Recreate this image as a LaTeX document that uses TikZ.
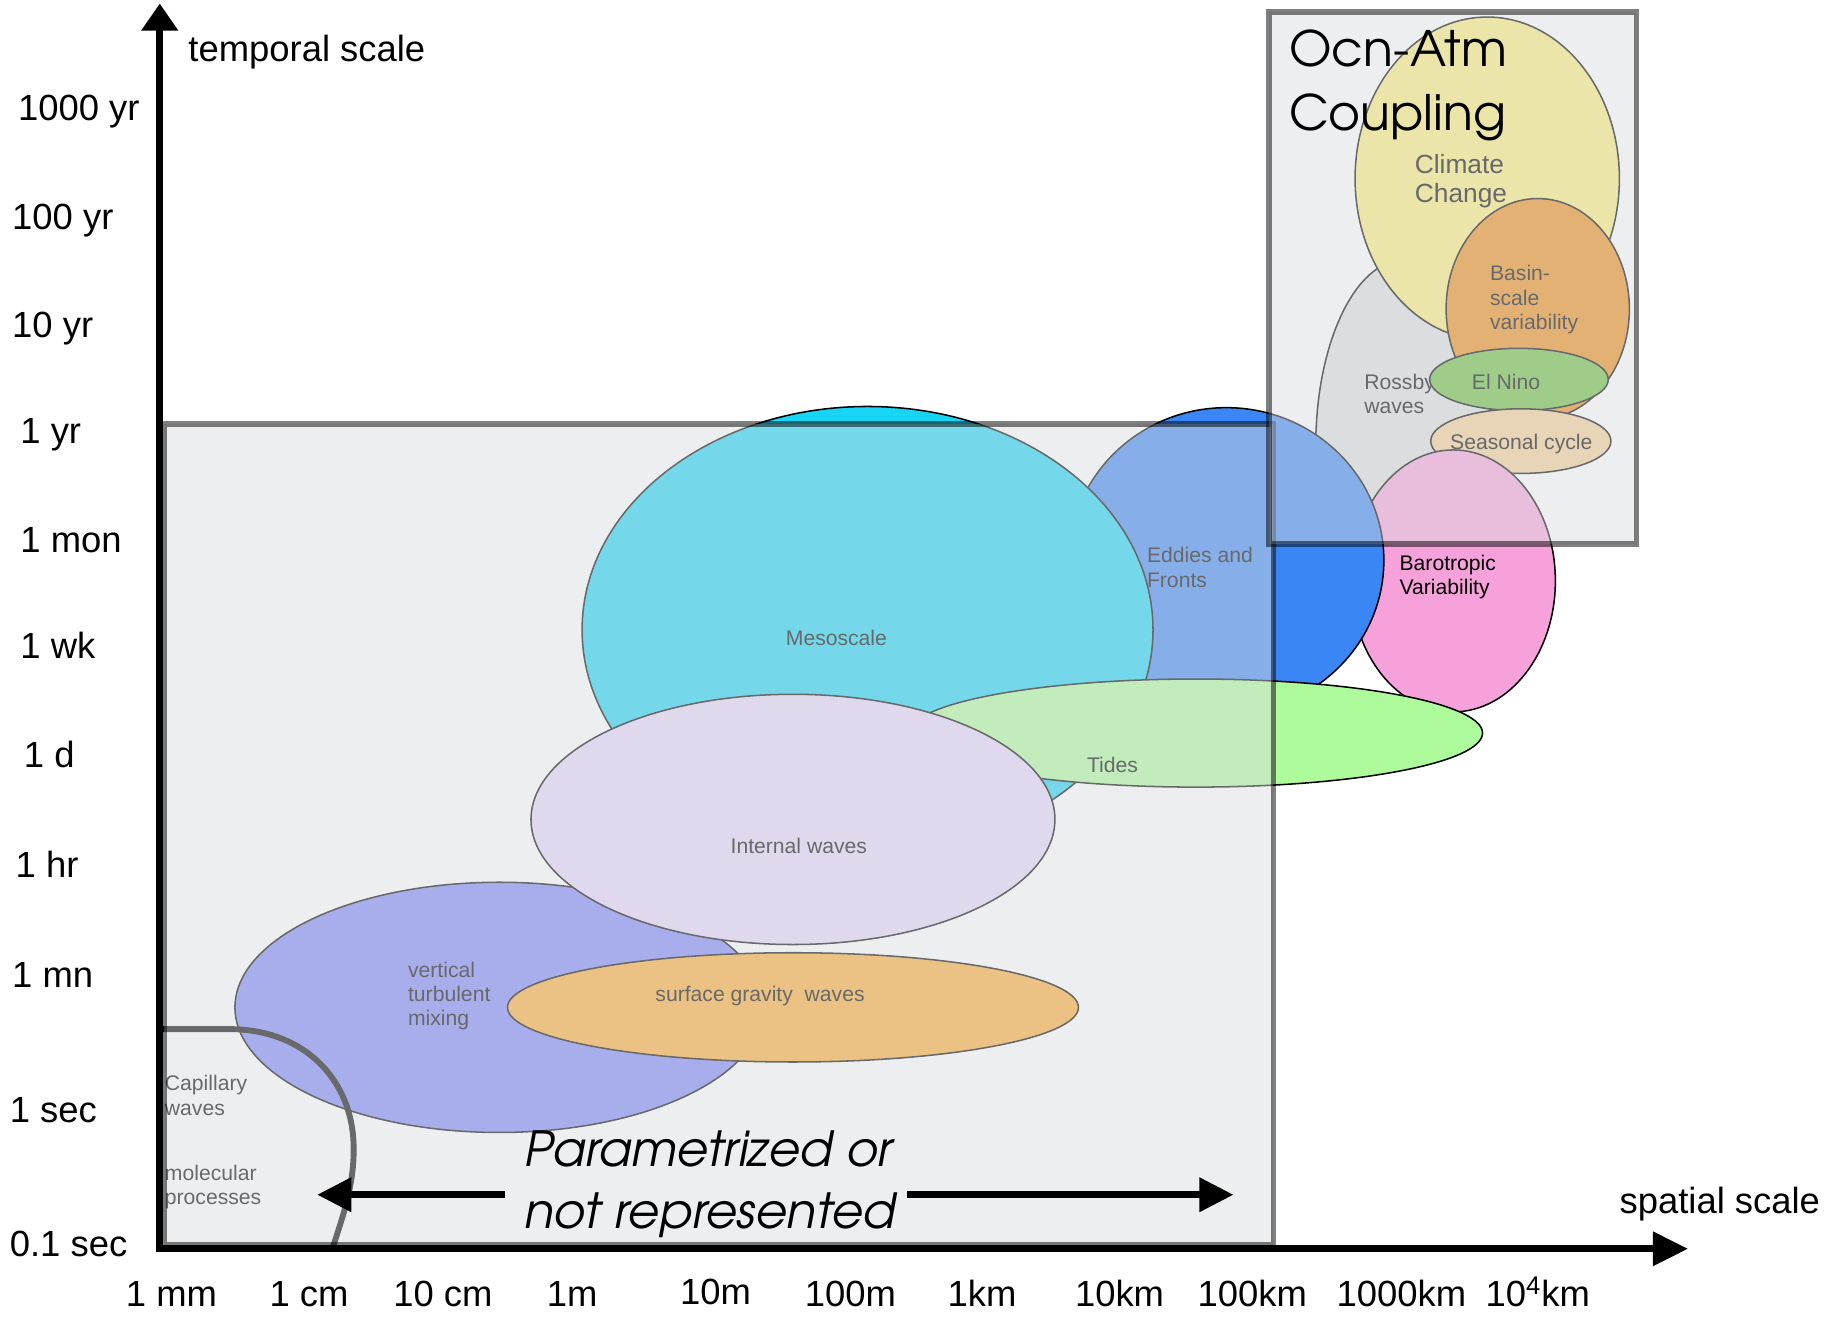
\documentclass[tikz,border=0pt]{standalone}
\usepackage{fontspec}
\setmainfont{Liberation Sans}
\newfontfamily\geofont{texgyreadventor-regular.otf}[ItalicFont=texgyreadventor-italic.otf]
\usetikzlibrary{shapes.geometric,arrows.meta}

% process colours
\definecolor{cRossby}{RGB}{222,222,223}
\definecolor{cClimate}{RGB}{251,239,121}
\definecolor{cBasin}{RGB}{239,139,21}
\definecolor{cNino}{RGB}{108,191,61}
\definecolor{cSeason}{RGB}{245,207,150}
\definecolor{cBaro}{RGB}{247,161,219}
\definecolor{cEddy}{RGB}{58,134,245}
\definecolor{cMeso}{RGB}{24,212,245}
\definecolor{cTide}{RGB}{174,251,156}
\definecolor{cMix}{RGB}{124,130,248}
\definecolor{cIW}{RGB}{231,216,252}
\definecolor{cSGW}{RGB}{252,172,48}
\definecolor{cVeil}{RGB}{218,220,223}

\begin{document}
\begin{tikzpicture}[x=0.5pt, y=-0.5pt,
  blob/.style args={#1/#2}{ellipse, draw=black, line width=0.65pt, inner sep=0pt,
                           minimum width=#1*1pt, minimum height=#2*1pt},
  lbl/.style={font=\fontsize{9}{10.25}\selectfont, align=left, inner sep=0pt},
  axl/.style={font=\fontsize{15.5}{18}\selectfont, inner sep=0pt, text height=11.2pt, text depth=0pt},
  veil/.style={fill=cVeil, fill opacity=0.48, draw=black, draw opacity=0.5, line width=2.5pt},
  geo/.style={font=\geofont\fontsize{20.8}{25}\selectfont, inner sep=0pt, anchor=base west},
  geoit/.style={font=\geofont\itshape\fontsize{20.6}{25}\selectfont, inner sep=0pt, anchor=base west},
  bigarrow/.style={line width=3pt, -{Triangle[length=14.5pt, width=14pt]}},
]
\fill[white] (0,0) rectangle (1568,1121);
\useasboundingbox (0,0) rectangle (1568,1121);

% ---- large-scale processes
\node[blob=75/158.6, fill=cRossby] (rossby) at (1195,380) {};
\node[lbl, anchor=west] (rossbyT) at (1161,335.5) {Rossby\\waves};
\node[blob=112.5/137.5, fill=cClimate] (climate) at (1266,152) {};
\node[lbl, anchor=west, font=\fontsize{11.2}{12.2}\selectfont] (climateT) at (1204,154) {Climate\\Change};
\node[blob=78/94, fill=cBasin] (basin) at (1309,263) {};
\node[lbl, anchor=west] (basinT) at (1268,255) {Basin-\\scale\\variability};
\node[blob=76/26.5, fill=cNino] (nino) at (1293,323) {};
\node[lbl] (ninoT) at (1282,325) {El Nino};
\node[blob=76.7/27.5, fill=cSeason] (season) at (1294.6,375.5) {};
\node[lbl] (seasonT) at (1295,378) {Seasonal cycle};
\node[blob=87/111.5, fill=cBaro] (baro) at (1237,494.5) {};
\node[lbl, anchor=west] (baroT) at (1191,491.5) {Barotropic\\Variability};

% ---- mesoscale and smaller
\node[blob=134/130, fill=cEddy] (eddy) at (1044,477) {};
\node[lbl, anchor=west] (eddyT) at (976,483) {Eddies and\\Fronts};
\node[blob=243/190, fill=cMeso] (meso) at (738.5,536) {};
\node[lbl] (mesoT) at (712,543) {Mesoscale};
\node[blob=244/46, fill=cTide] (tide) at (1018,624) {};
\node[lbl] (tideT) at (947,651) {Tides};
\node[blob=225/106.5, fill=cMix] (mix) at (425,857.5) {};
\node[lbl, anchor=west] (mixT) at (347,848) {vertical\\turbulent\\mixing};
\node[blob=223/106.5, fill=cIW] (iw) at (675,697.5) {};
\node[lbl] (iwT) at (680,720) {Internal waves};
\node[blob=243/46.5, fill=cSGW] (sgw) at (675,857.5) {};
\node[lbl] (sgwT) at (647,848) {surface gravity\ \ waves};

% ---- capillary / molecular corner
\coordinate (capA) at (137,876);
\coordinate (capB) at (195,876);
\coordinate (capC) at (301,975);
\coordinate (capD) at (283,1063);
\draw[line width=2.5pt] (capA) -- (capB) .. controls (260,876) and (300,920) .. (capC)
      .. controls (302,1010) and (290,1040) .. (capD);
\node[lbl, anchor=west] (capT) at (140,932.5) {Capillary\\waves};
\node[lbl, anchor=west] (molT) at (140,1010.5) {molecular\\processes};

% ---- translucent regime boxes
\draw[veil] (140,361) rectangle (1084,1060);
\draw[veil] (1080,10) rectangle (1393,463);

% ---- axes
\coordinate (O) at (136,1063);
\coordinate (Ybot) at (136,1066);
\coordinate (Ytip) at (136,3);
\coordinate (Xleft) at (133,1063);
\coordinate (Xtip) at (1437,1063);
\draw[line width=3pt, -{Triangle[length=11.5pt, width=15pt]}] (Ybot) -- (Ytip);
\draw[line width=3pt, -{Triangle[length=15pt, width=14pt]}] (Xleft) -- (Xtip);

\node[axl, anchor=west] (tlab) at (160,41) {temporal scale};
\node[axl] (slab) at (1464,1022) {spatial scale};

\node[axl, anchor=west] (t1) at (15,91) {1000 yr};
\node[axl, anchor=west] (t2) at (10,184) {100 yr};
\node[axl, anchor=west] (t3) at (10,276) {10 yr};
\node[axl, anchor=west] (t4) at (17,366) {1 yr};
\node[axl, anchor=west] (t5) at (17,459) {1 mon};
\node[axl, anchor=west] (t6) at (17,549) {1 wk};
\node[axl, anchor=west] (t7) at (20,642) {1 d};
\node[axl, anchor=west] (t8) at (13,736) {1 hr};
\node[axl, anchor=west] (t9) at (10,829) {1 mn};
\node[axl, anchor=west] (t10) at (8,944) {1 sec};
\node[axl, anchor=west] (t11) at (8,1058) {0.1 sec};

\node[axl] (s1) at (146,1101) {1 mm};
\node[axl] (s2) at (263,1101) {1 cm};
\node[axl] (s3) at (377,1101) {10 cm};
\node[axl] (s4) at (487,1101) {1m};
\node[axl] (s5) at (609,1099) {10m};
\node[axl] (s6) at (724,1101) {100m};
\node[axl] (s7) at (836,1101) {1km};
\node[axl] (s8) at (953,1101) {10km};
\node[axl] (s9) at (1066,1101) {100km};
\node[axl] (s10) at (1193,1101) {1000km};
\node[axl] (s11) at (1309,1101) {10\textsuperscript{4}km};

% ---- regime titles
\node[geo] (ocn1) at (1097,57) {Ocn-Atm};
\node[geo] (ocn2) at (1097,111) {Coupling};
\node[geoit] (par1) at (446,993) {Parametrized or};
\node[geoit] (par2) at (446,1046) {not represented};

\coordinate (pLs) at (430,1017);
\coordinate (pLe) at (270,1017);
\coordinate (pRs) at (772,1017);
\coordinate (pRe) at (1050,1017);
\draw[bigarrow] (pLs) -- (pLe);
\draw[bigarrow] (pRs) -- (pRe);
\end{tikzpicture}
\end{document}
